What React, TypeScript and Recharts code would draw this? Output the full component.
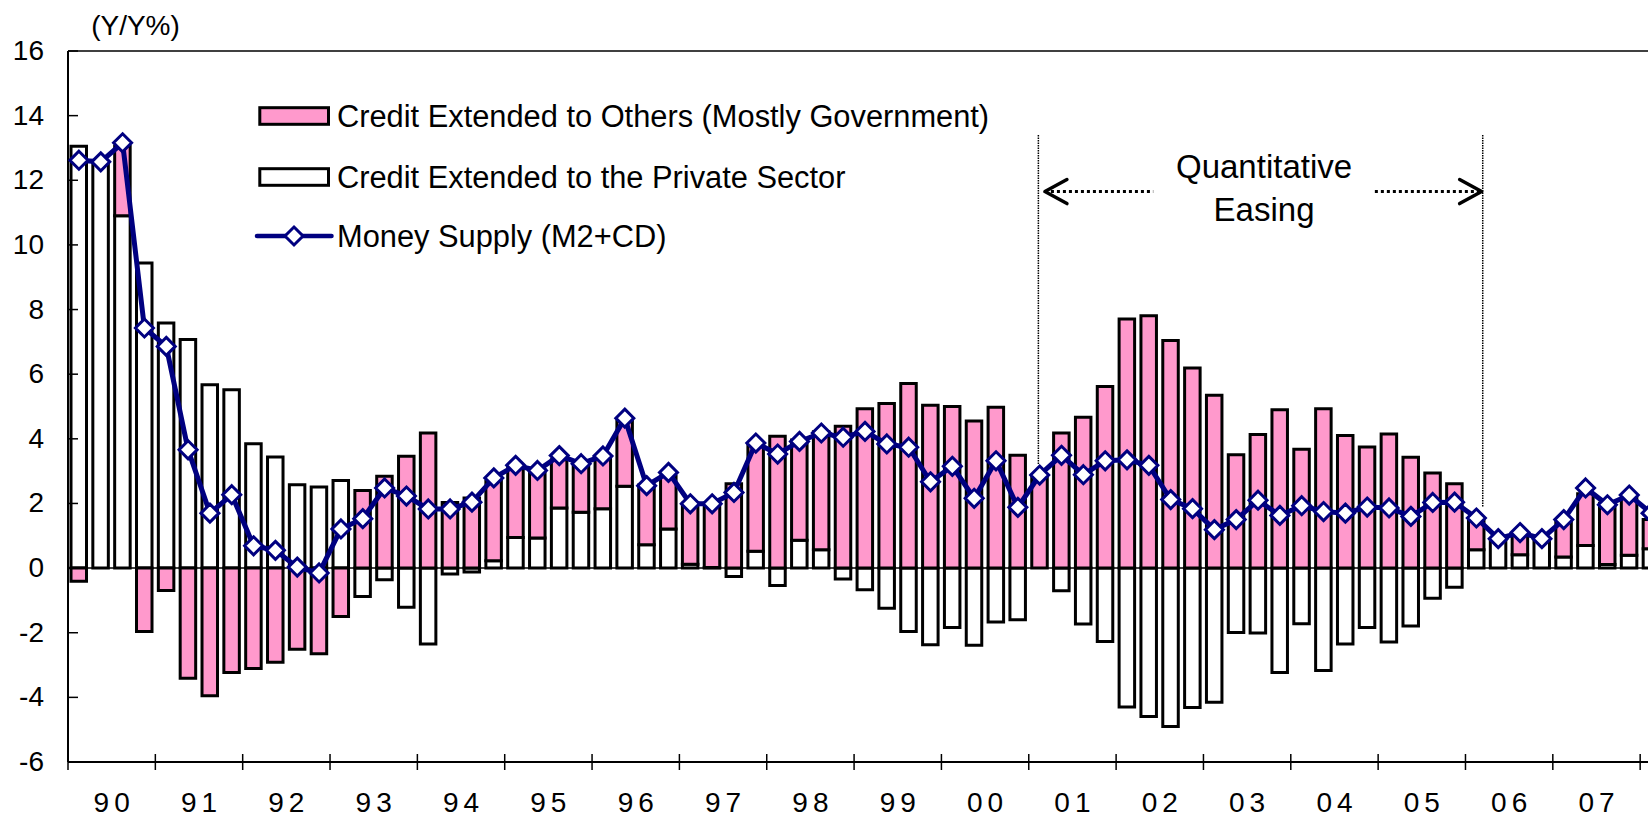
import React from 'react';
import { ComposedChart, Bar, Line, XAxis, YAxis, ReferenceLine, Legend } from 'recharts';

// ---------- data ----------
const yearLabels = ['90', '91', '92', '93', '94', '95', '96', '97', '98', '99', '00', '01', '02', '03', '04', '05', '06', '07'];
const quarterNames = ['Q1', 'Q2', 'Q3', 'Q4'];

// Credit Extended to the Private Sector (Y/Y %, contribution)
const privateCredit = [
  13.05, 12.5, 10.9, 9.44, 7.58, 7.07, 5.67, 5.52, 3.85, 3.44, 2.58, 2.51, 2.71, -0.88, -0.36, -1.21,
  -2.35, -0.18, -0.12, 0.23, 0.95, 0.93, 1.86, 1.73, 1.84, 2.53, 0.72, 1.21, 0.12, 0.02, -0.26, 0.52,
  -0.54, 0.86, 0.57, -0.34, -0.67, -1.24, -1.96, -2.37, -1.84, -2.39, -1.67, -1.6, 0, -0.7, -1.73, -2.27,
  -4.3, -4.59, -4.9, -4.31, -4.15, -1.99, -2.01, -3.23, -1.72, -3.17, -2.35, -1.84, -2.29, -1.79, -0.93, -0.59,
  0.57, 0.85, 0.41, 0.85, 0.34, 0.7, 0.11, 0.4, 0.6,
];

// Credit Extended to Others (Mostly Government)
const otherCredit = [
  -0.41, 0, 2.15, -1.96, -0.69, -3.41, -3.95, -3.23, -3.11, -2.91, -2.51, -2.65, -1.5, 2.4, 2.84, 3.46,
  4.18, 2.03, 2.17, 2.45, 2.2, 2.11, 1.49, 1.47, 1.62, 2.01, 1.85, 1.63, 1.89, 1.96, 2.61, 3.3,
  4.08, 3.1, 3.65, 4.39, 4.93, 5.09, 5.71, 5.04, 5.0, 4.55, 4.98, 3.49, 2.8, 4.18, 4.67, 5.62,
  7.71, 7.81, 7.04, 6.19, 5.35, 3.51, 4.13, 4.9, 3.68, 4.93, 4.1, 3.75, 4.15, 3.43, 2.94, 2.61,
  0.9, 0, 0.6, 0, 1.1, 1.6, 1.9, 1.75, 0.9,
];

// Money Supply (M2+CD)
const moneySupply = [
  12.62, 12.57, 13.16, 7.43, 6.86, 3.66, 1.7, 2.27, 0.69, 0.55, 0.03, -0.15, 1.21, 1.53, 2.48, 2.23,
  1.83, 1.83, 2.04, 2.79, 3.18, 3.02, 3.48, 3.23, 3.47, 4.64, 2.55, 2.96, 1.99, 1.99, 2.34, 3.87,
  3.53, 3.92, 4.18, 4.05, 4.23, 3.84, 3.74, 2.67, 3.15, 2.16, 3.32, 1.88, 2.88, 3.49, 2.89, 3.32,
  3.35, 3.18, 2.12, 1.84, 1.19, 1.5, 2.1, 1.63, 1.93, 1.75, 1.7, 1.89, 1.86, 1.6, 2.03, 2.04,
  1.55, 0.91, 1.1, 0.91, 1.5, 2.48, 1.96, 2.26, 1.7,
];

const yTicks = [-6, -4, -2, 0, 2, 4, 6, 8, 10, 12, 14, 16];
const seriesNames = {
  other: 'Credit Extended to Others (Mostly Government)',
  priv: 'Credit Extended to the Private Sector',
  m2: 'Money Supply (M2+CD)',
};
const unitLabel = '(Y/Y%)';
const qeText = ['Quantitative', 'Easing'];
// Quantitative easing annotation (in quarter-position units / Y/Y%)
const qeStart = 44.44;
const qeEnd = 64.79;
const qeTop = 13.4;
const qeLeftBottom = 3.2;
const qeRightBottom = 1.9;
const qeArrowY = 11.65;
const qeLeftArrowEnd = 49.7;
const qeRightArrowStart = 59.85;
const qeLeftTip = 44.74;
const qeRightTip = 64.74;

const allQuarters = [...yearLabels, '08'].flatMap((y) => quarterNames.map((q) => `${y}${q}`));
const data = privateCredit.map((p, i) => ({
  quarter: allQuarters[i],
  pos: i + 0.5,
  priv: p,
  other: otherCredit[i],
  m2: moneySupply[i],
}));
const xTicks = Array.from({ length: yearLabels.length * 2 + 1 }, (_, k) => k * 2);

// ---------- styles ----------
const FONT = "'Liberation Sans', Arial, Helvetica, sans-serif";
const PINK = '#FF99CC';
const NAVY = '#000080';

const Diamond = ({ cx, cy }: { cx: number; cy: number }) => (
  <path
    d={`M${cx},${cy - 9} L${cx + 9},${cy} L${cx},${cy + 9} L${cx - 9},${cy} Z`}
    fill="#fff"
    stroke={NAVY}
    strokeWidth={3}
  />
);

const XTick = (props: any) => {
  const { x, y, payload } = props;
  const v = Number(payload?.value);
  if (v % 4 === 0) {
    return <line x1={x} x2={x} y1={y - 8} y2={y + 8} stroke="#000" strokeWidth={1.5} />;
  }
  const label = yearLabels[(v - 2) / 4];
  if (!label) return <g />;
  return (
    <text x={x + 2.5} y={y + 50} textAnchor="middle" fontFamily={FONT} fontSize={28} letterSpacing={5} fill="#000">
      {label}
    </text>
  );
};

const YTick = (props: any) => {
  const { x, y, payload } = props;
  return (
    <g>
      <line x1={x} x2={x + 10} y1={y} y2={y} stroke="#000" strokeWidth={1.5} />
      <text x={x - 24} y={y} dy={9} textAnchor="end" fontFamily={FONT} fontSize={28} fill="#000">
        {payload.value}
      </text>
    </g>
  );
};

const UnitLabel = (props: any) => {
  const vb = props.viewBox || { x: 8, y: 51, width: 60, height: 711 };
  return (
    <text x={vb.x + vb.width + 67.5} y={vb.y - 16} textAnchor="middle" fontFamily={FONT} fontSize={28} fill="#000">
      {unitLabel}
    </text>
  );
};

const ArrowHead = (props: any) => {
  const vb = props.viewBox;
  if (!vb) return null;
  const left = props.dir === 'left';
  const tipX = left ? vb.x : vb.x + vb.width;
  const back = left ? 22 : -22;
  const y = vb.y;
  return (
    <polyline
      points={`${tipX + back},${y - 12} ${tipX},${y} ${tipX + back},${y + 12}`}
      fill="none"
      stroke="#000"
      strokeWidth={3.5}
      strokeLinecap="round"
      strokeLinejoin="round"
    />
  );
};

const QELabel = (props: any) => {
  const vb = props.viewBox;
  if (!vb) return null;
  const cx = vb.x + vb.width / 2 + 3.5;
  return (
    <g>
      <text x={cx} y={vb.y - 13.5} textAnchor="middle" fontFamily={FONT} fontSize={33} fill="#000">
        {qeText[0]}
      </text>
      <text x={cx} y={vb.y + 29.5} textAnchor="middle" fontFamily={FONT} fontSize={33} fill="#000">
        {qeText[1]}
      </text>
    </g>
  );
};

const renderLegend = (props: any) => {
  const payload: any[] = props.payload || [];
  const find = (k: string) => payload.find((p) => p.dataKey === k);
  const rows = [
    { key: 'other', type: 'bar', fill: PINK, value: find('other')?.value ?? seriesNames.other, cy: 108 },
    { key: 'priv', type: 'bar', fill: '#fff', value: find('priv')?.value ?? seriesNames.priv, cy: 169 },
    { key: 'm2', type: 'line', fill: NAVY, value: find('m2')?.value ?? seriesNames.m2, cy: 228 },
  ];
  return (
    <svg width={1000} height={300} style={{ overflow: 'visible', pointerEvents: 'none', display: 'block' }}>
      {rows.map((r) => (
        <g key={r.key}>
          {r.type === 'bar' ? (
            <rect x={251.8} y={r.cy - 8.3} width={68.7} height={16.6} fill={r.fill} stroke="#000" strokeWidth={3} />
          ) : (
            <g>
              <line x1={249} x2={323.5} y1={r.cy} y2={r.cy} stroke={NAVY} strokeWidth={4.5} strokeLinecap="round" />
              <Diamond cx={286} cy={r.cy} />
            </g>
          )}
          <text x={329} y={r.cy + 10.8} fontFamily={FONT} fontSize={30.8} fill="#000">
            {r.value}
          </text>
        </g>
      ))}
    </svg>
  );
};

export default function App() {
  return (
    <div
      style={{
        position: 'fixed',
        left: 0,
        top: 0,
        width: 1648,
        height: 818,
        overflow: 'hidden',
        background: '#fff',
      }}
    >
      <ComposedChart
        width={1668}
        height={818}
        data={data}
        stackOffset="sign"
        margin={{ top: 51, right: 6, bottom: 0, left: 8 }}
      >
        <XAxis
          dataKey="pos"
          type="number"
          domain={[0, data.length]}
          ticks={xTicks}
          interval={0}
          height={56}
          tickSize={0}
          tickMargin={0}
          tickLine={false}
          tick={XTick}
          axisLine={{ stroke: '#000', strokeWidth: 2 }}
          allowDataOverflow
        />
        <YAxis
          domain={[-6, 16]}
          ticks={yTicks}
          interval={0}
          width={60}
          tickSize={0}
          tickMargin={0}
          tickLine={false}
          tick={YTick}
          axisLine={{ stroke: '#000', strokeWidth: 2 }}
          allowDataOverflow
          label={{ content: UnitLabel }}
        />
        <ReferenceLine y={16} stroke="#000" strokeWidth={1.5} />
        <Bar
          dataKey="priv"
          name={seriesNames.priv}
          stackId="credit"
          fill="#fff"
          stroke="#000"
          strokeWidth={3}
          barSize={15.5}
          isAnimationActive={false}
        />
        <Bar
          dataKey="other"
          name={seriesNames.other}
          stackId="credit"
          fill={PINK}
          stroke="#000"
          strokeWidth={3}
          barSize={15.5}
          isAnimationActive={false}
        />
        <ReferenceLine y={0} stroke="#000" strokeWidth={1.5} />
        <ReferenceLine
          segment={[{ x: qeStart, y: qeTop }, { x: qeStart, y: qeLeftBottom }]}
          stroke="#000"
          strokeWidth={1.5}
          strokeDasharray="1.5 1"
        />
        <ReferenceLine
          segment={[{ x: qeEnd, y: qeTop }, { x: qeEnd, y: qeRightBottom }]}
          stroke="#000"
          strokeWidth={1.5}
          strokeDasharray="1.5 1"
        />
        <ReferenceLine
          segment={[{ x: qeLeftTip, y: qeArrowY }, { x: qeLeftArrowEnd, y: qeArrowY }]}
          stroke="#000"
          strokeWidth={3}
          strokeDasharray="3 3"
          label={{ content: (p: any) => <ArrowHead {...p} dir="left" /> }}
        />
        <ReferenceLine
          segment={[{ x: qeRightArrowStart, y: qeArrowY }, { x: qeRightTip, y: qeArrowY }]}
          stroke="#000"
          strokeWidth={3}
          strokeDasharray="3 3"
          label={{ content: (p: any) => <ArrowHead {...p} dir="right" /> }}
        />
        <ReferenceLine
          segment={[{ x: qeStart, y: qeArrowY }, { x: qeEnd, y: qeArrowY }]}
          stroke="none"
          label={{ content: QELabel }}
        />
        <Line
          dataKey="m2"
          name={seriesNames.m2}
          type="linear"
          stroke={NAVY}
          strokeWidth={5}
          dot={(p: any) => <Diamond key={`dot-${p.index}`} cx={p.cx} cy={p.cy} />}
          activeDot={false}
          isAnimationActive={false}
        />
        <Legend
          layout="vertical"
          align="center"
          verticalAlign="middle"
          content={renderLegend}
          wrapperStyle={{ top: 8, left: 8, width: 1000, height: 300 }}
        />
      </ComposedChart>
    </div>
  );
}
